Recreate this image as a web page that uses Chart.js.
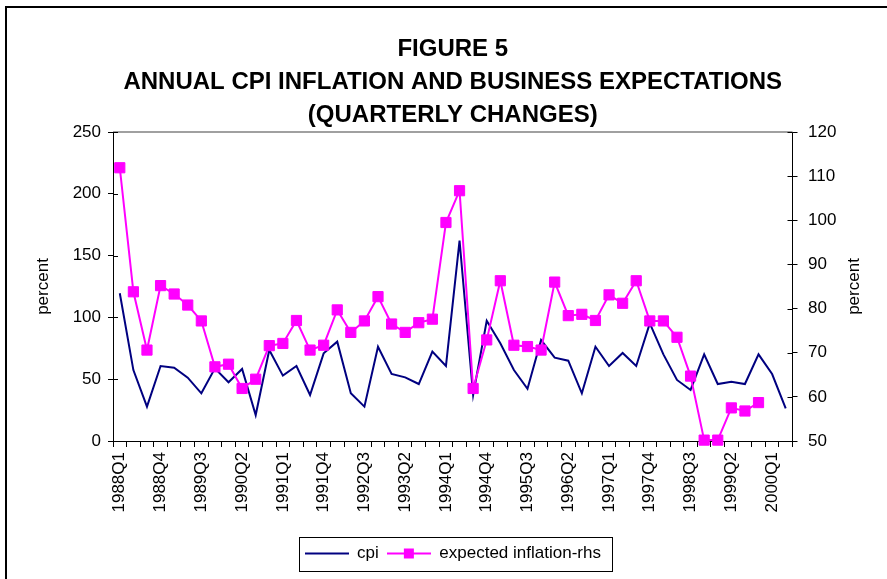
<!DOCTYPE html>
<html>
<head>
<meta charset="utf-8">
<script src="https://cdn.jsdelivr.net/npm/chart.js@4"></script>
<style>
html,body{margin:0;padding:0;background:#fff;overflow:hidden}
#wrap{position:relative;width:887px;height:579px;overflow:hidden}
#frame{position:absolute;left:5px;top:6px;width:900px;height:600px;border:2px solid #000;box-sizing:border-box;pointer-events:none}
canvas{position:absolute;left:0;top:0}
</style>
</head>
<body>
<div id="wrap"><canvas id="c" width="887" height="579"></canvas><div id="frame"></div></div>
<script>
// ---- data ----
const quarters = [
  '1988Q1','1988Q2','1988Q3','1988Q4','1989Q1','1989Q2','1989Q3','1989Q4',
  '1990Q1','1990Q2','1990Q3','1990Q4','1991Q1','1991Q2','1991Q3','1991Q4',
  '1992Q1','1992Q2','1992Q3','1992Q4','1993Q1','1993Q2','1993Q3','1993Q4',
  '1994Q1','1994Q2','1994Q3','1994Q4','1995Q1','1995Q2','1995Q3','1995Q4',
  '1996Q1','1996Q2','1996Q3','1996Q4','1997Q1','1997Q2','1997Q3','1997Q4',
  '1998Q1','1998Q2','1998Q3','1998Q4','1999Q1','1999Q2','1999Q3','1999Q4',
  '2000Q1','2000Q2'
];
const cpi = [
  119.5, 57.4, 27.8, 60.7, 59.3, 51.2, 38.6, 58.8, 47.5, 58.3,
  21.0, 73.6, 52.9, 60.7, 37.2, 70.9, 80.4, 38.6, 27.8, 76.3,
  54.2, 51.5, 46.1, 72.3, 60.7, 162.1, 37.2, 97.3, 79.0, 57.4,
  42.3, 81.7, 67.4, 65.0, 38.6, 76.3, 60.7, 71.2, 60.7, 95.2,
  70.1, 49.4, 41.3, 70.1, 46.1, 48.0, 46.1, 70.1, 54.2, 26.4
];
const expectedInflation = [
  111.9, 83.8, 70.6, 85.2, 83.3, 80.8, 77.2, 66.8, 67.4, 61.9,
  64.0, 71.6, 72.1, 77.3, 70.6, 71.7, 79.7, 74.6, 77.2, 82.7,
  76.5, 74.6, 76.8, 77.6, 99.5, 106.7, 61.9, 72.9, 86.3, 71.7,
  71.4, 70.6, 86.0, 78.4, 78.7, 77.3, 83.1, 81.2, 86.3, 77.2,
  77.2, 73.5, 64.7, 50.2, 50.2, 57.5, 56.8, 58.7, null, null
];
const seriesNames = ['cpi', 'expected inflation-rhs'];
const titleLines = ['FIGURE 5', 'ANNUAL CPI INFLATION AND BUSINESS EXPECTATIONS', '(QUARTERLY CHANGES)'];
const leftAxis = {min: 0, max: 250, step: 50, title: 'percent'};
const rightAxis = {min: 50, max: 120, step: 10, title: 'percent'};

// ---- styles ----
const FONT = '"Liberation Sans", Arial, Helvetica, sans-serif';
const NAVY = '#000080';
const PINK = '#FF00FF';

function makeSample(color, marker) {
  const cv = document.createElement('canvas');
  cv.width = 44; cv.height = 14;
  const g = cv.getContext('2d');
  g.strokeStyle = color; g.lineWidth = 2;
  g.beginPath(); g.moveTo(0, 7); g.lineTo(44, 7); g.stroke();
  if (marker) { g.fillStyle = color; g.fillRect(17, 2, 10, 10); }
  return cv;
}
const sampleCpi = makeSample(NAVY, false);
const sampleExp = makeSample(PINK, true);

const decor = {
  id: 'decor',
  afterDraw(chart) {
    const {ctx, chartArea: a, scales} = chart;
    ctx.save();
    // top plot-area border (grey)
    ctx.strokeStyle = '#808080'; ctx.lineWidth = 1.5;
    ctx.beginPath(); ctx.moveTo(a.left, a.top); ctx.lineTo(a.right, a.top); ctx.stroke();
    // inner halves of the crossing tick marks
    ctx.strokeStyle = '#000'; ctx.lineWidth = 1;
    const yl = scales.y, yr = scales.y2;
    yl.ticks.forEach((t, i) => {
      const y = Math.round(yl.getPixelForTick(i)) + 0.5;
      ctx.beginPath(); ctx.moveTo(a.left, y); ctx.lineTo(a.left + 5, y); ctx.stroke();
    });
    yr.ticks.forEach((t, i) => {
      const y = Math.round(yr.getPixelForTick(i)) + 0.5;
      ctx.beginPath(); ctx.moveTo(a.right - 5, y); ctx.lineTo(a.right, y); ctx.stroke();
    });
    // right axis title (reads bottom to top)
    ctx.fillStyle = '#000';
    ctx.font = '17px ' + FONT;
    ctx.textAlign = 'center'; ctx.textBaseline = 'middle';
    ctx.translate(yr.right - 23, (a.top + a.bottom) / 2);
    ctx.rotate(-Math.PI / 2);
    ctx.fillText(rightAxis.title, 0, 0);
    ctx.setTransform(1, 0, 0, 1, 0, 0);
    // legend frame
    const lg = chart.legend;
    if (lg && lg.legendHitBoxes && lg.legendHitBoxes.length) {
      const hb = lg.legendHitBoxes;
      const l = Math.min(...hb.map(h => h.left)) - 6;
      const r = Math.max(...hb.map(h => h.left + h.width)) + 11;
      ctx.strokeStyle = '#000'; ctx.lineWidth = 1;
      ctx.strokeRect(Math.round(l) + 0.5, Math.round(lg.top) + 0.5, Math.round(r - l), Math.round(lg.bottom - lg.top) - 1);
    }
    ctx.restore();
  }
};

new Chart(document.getElementById('c'), {
  type: 'line',
  data: {
    labels: quarters,
    datasets: [
      {
        label: seriesNames[0], data: cpi, yAxisID: 'y',
        borderColor: NAVY, backgroundColor: NAVY, borderWidth: 2,
        pointRadius: 0, tension: 0, order: 2, clip: false
      },
      {
        label: seriesNames[1], data: expectedInflation, yAxisID: 'y2',
        borderColor: PINK, backgroundColor: PINK, borderWidth: 2,
        pointStyle: 'rect', pointRadius: 7.2, pointBorderWidth: 1,
        pointBorderColor: PINK, pointBackgroundColor: PINK,
        tension: 0, order: 1, clip: false
      }
    ]
  },
  options: {
    responsive: false, animation: false, devicePixelRatio: 1,
    layout: {padding: {left: 10, right: 10, top: 0, bottom: 7}},
    plugins: {
      tooltip: {enabled: false},
      title: {
        display: true, text: titleLines, color: '#000', fullSize: false,
        font: {family: FONT, size: 24, weight: 'bold', lineHeight: '33px'},
        padding: {top: 32.5, bottom: 0.5}
      },
      legend: {
        display: true, position: 'bottom', fullSize: false,
        labels: {
          color: '#000', font: {family: FONT, size: 17},
          usePointStyle: true, pointStyleWidth: 44, padding: 8,
          generateLabels(chart) {
            const items = Chart.defaults.plugins.legend.labels.generateLabels(chart);
            items.sort((p, q) => p.datasetIndex - q.datasetIndex);
            items.forEach(it => { it.pointStyle = it.datasetIndex === 0 ? sampleCpi : sampleExp; });
            return items;
          }
        }
      }
    },
    scales: {
      x: {
        type: 'category', offset: true,
        grid: {offset: true, drawOnChartArea: false, tickLength: 6, color: '#000', tickWidth: 1},
        border: {color: '#000', width: 1},
        ticks: {
          autoSkip: false, minRotation: 90, maxRotation: 90, padding: 5,
          color: '#000', font: {family: FONT, size: 17},
          callback: function (v, i) { return i % 3 === 0 ? this.getLabelForValue(v) : ''; }
        },
        afterFit(s) { s.height = 96; }
      },
      y: {
        position: 'left', min: leftAxis.min, max: leftAxis.max,
        ticks: {stepSize: leftAxis.step, padding: 7, color: '#000', font: {family: FONT, size: 17}},
        grid: {drawOnChartArea: false, tickLength: 5, color: '#000'},
        border: {color: '#000', width: 1},
        title: {display: true, text: leftAxis.title, color: '#000', font: {family: FONT, size: 17}, padding: {top: 22.8, bottom: 0}},
        afterFit(s) { s.width = 103; }
      },
      y2: {
        position: 'right', min: rightAxis.min, max: rightAxis.max,
        ticks: {stepSize: rightAxis.step, padding: 10.5, color: '#000', font: {family: FONT, size: 17}},
        grid: {drawOnChartArea: false, tickLength: 5, color: '#000'},
        border: {color: '#000', width: 1},
        afterFit(s) { s.width = 84.5; }
      }
    }
  },
  plugins: [decor]
});
</script>
</body>
</html>
